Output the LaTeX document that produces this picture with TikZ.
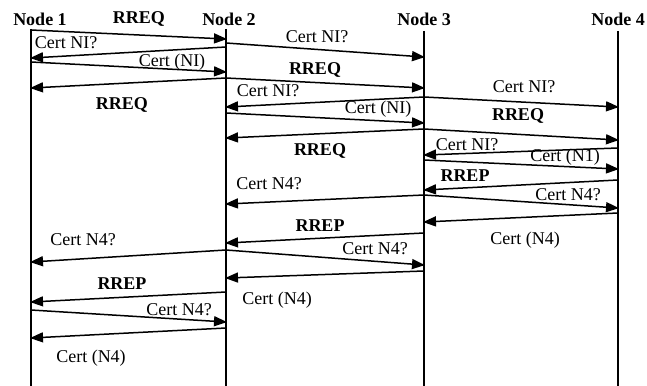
\documentclass[tikz,border=0pt]{standalone}
\usepackage{fontspec}
\setmainfont{Liberation Serif}
\usetikzlibrary{arrows.meta}
\tikzset{
  head/.style={font=\fontsize{18}{20}\selectfont\bfseries, inner sep=0pt},
  lbl/.style={font=\fontsize{18}{20}\selectfont, inner sep=0pt},
  blbl/.style={font=\fontsize{18}{20}\selectfont\bfseries, inner sep=0pt},
  life/.style={line width=1.6pt},
  msg/.style={-{Triangle[length=13pt,width=10pt]}, line width=1.5pt, shorten >=-1pt}
}

\begin{document}
\begin{tikzpicture}[x=1pt,y=-1pt]
\useasboundingbox (0,0) rectangle (647,385);

% lifelines
\coordinate (l1) at (31,0);
\coordinate (l2) at (226,0);
\coordinate (l3) at (424,0);
\coordinate (l4) at (618,0);
\node[head] (h1) at (40,19) {Node 1};
\node[head] (h2) at (229,19) {Node 2};
\node[head] (h3) at (424,19) {Node 3};
\node[head] (h4) at (618,19) {Node 4};
\draw[life] (l1 |- 0,29) -- (l1 |- 0,386);
\draw[life] (l2 |- 0,29) -- (l2 |- 0,386);
\draw[life] (l3 |- 0,31) -- (l3 |- 0,386);
\draw[life] (l4 |- 0,31) -- (l4 |- 0,386);

% Node 1 <-> Node 2
\draw[msg] (l1 |- 0,30) -- (l2 |- 0,39);
\node[blbl] (m1) at (139,19) {RREQ};
\draw[msg] (l2 |- 0,47) -- (l1 |- 0,58);
\node[lbl] (m2) at (66,43) {Cert NI?};
\draw[msg] (l1 |- 0,62) -- (l2 |- 0,72);
\node[lbl] (m3) at (172,62) {Cert (NI)};
\draw[msg] (l2 |- 0,78) -- (l1 |- 0,88);
\node[blbl] (m4) at (122,105) {RREQ};

% Node 2 <-> Node 3
\draw[msg] (l2 |- 0,43) -- (l3 |- 0,57);
\node[lbl] (m5) at (317,37) {Cert NI?};
\draw[msg] (l2 |- 0,78) -- (l3 |- 0,88);
\node[blbl] (m6) at (315,70) {RREQ};
\draw[msg] (l3 |- 0,97) -- (l2 |- 0,107);
\node[lbl] (m7) at (268,91) {Cert NI?};
\draw[msg] (l2 |- 0,113) -- (l3 |- 0,123);
\node[lbl] (m8) at (378,109) {Cert (NI)};
\draw[msg] (l3 |- 0,129) -- (l2 |- 0,138);
\node[blbl] (m9) at (320,151) {RREQ};

% Node 3 <-> Node 4
\draw[msg] (l3 |- 0,97) -- (l4 |- 0,107);
\node[lbl] (m10) at (524,87) {Cert NI?};
\draw[msg] (l3 |- 0,129) -- (l4 |- 0,140);
\node[blbl] (m11) at (518,116) {RREQ};
\draw[msg] (l4 |- 0,148) -- (l3 |- 0,155);
\node[lbl] (m12) at (467,145) {Cert NI?};
\draw[msg] (l3 |- 0,160) -- (l4 |- 0,169);
\node[lbl] (m13) at (565,157) {Cert (N1)};
\draw[msg] (l4 |- 0,180) -- (l3 |- 0,190);
\node[blbl] (m14) at (465,176) {RREP};
\draw[msg] (l3 |- 0,195) -- (l4 |- 0,208);
\node[lbl] (m15) at (568,195) {Cert N4?};
\draw[msg] (l4 |- 0,213) -- (l3 |- 0,222);
\node[lbl] (m16) at (525,240) {Cert (N4)};

% back towards Node 1
\draw[msg] (l3 |- 0,195) -- (l2 |- 0,204);
\node[lbl] (m17) at (269,184) {Cert N4?};
\draw[msg] (l3 |- 0,233) -- (l2 |- 0,243);
\node[blbl] (m18) at (320,226) {RREP};
\draw[msg] (l2 |- 0,250) -- (l3 |- 0,265);
\node[lbl] (m19) at (375,249) {Cert N4?};
\draw[msg] (l2 |- 0,250) -- (l1 |- 0,262);
\node[lbl] (m20) at (83,240) {Cert N4?};
\draw[msg] (l3 |- 0,271) -- (l2 |- 0,278);
\node[lbl] (m21) at (277,300) {Cert (N4)};
\draw[msg] (l2 |- 0,292) -- (l1 |- 0,302);
\node[blbl] (m22) at (122,284) {RREP};
\draw[msg] (l1 |- 0,310) -- (l2 |- 0,322);
\node[lbl] (m23) at (179,310) {Cert N4?};
\draw[msg] (l2 |- 0,328) -- (l1 |- 0,338);
\node[lbl] (m24) at (91,358) {Cert (N4)};
\end{tikzpicture}
\end{document}
